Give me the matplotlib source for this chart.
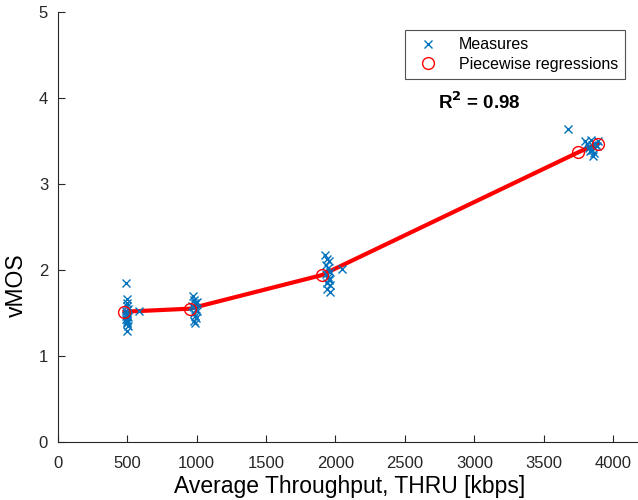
import matplotlib.pyplot as plt

plt.rcParams['font.family'] = ['Liberation Sans', 'DejaVu Sans']

# measured points (throughput kbps, vMOS)
meas_x = [490, 495, 500, 498, 502, 493, 497, 505, 488, 500, 496, 503, 499, 585,
          500, 494, 501,
          975, 980, 990, 985, 978, 995, 1000, 982, 988, 992, 979, 986, 1005, 970,
          1925, 1940, 1955, 1930, 1948, 1960, 1935, 1945, 1952, 1938, 1962, 2045, 1942, 1958, 1950,
          3674, 3800, 3840, 3825, 3850, 3870, 3860, 3880, 3835, 3855, 3890, 3845, 3810]
meas_y = [1.85, 1.66, 1.62, 1.58, 1.55, 1.52, 1.48, 1.45, 1.43, 1.40, 1.38, 1.35, 1.29, 1.52,
          1.50, 1.47, 1.42,
          1.70, 1.65, 1.62, 1.60, 1.57, 1.55, 1.52, 1.50, 1.47, 1.44, 1.41, 1.38, 1.63, 1.58,
          2.18, 2.13, 2.10, 2.06, 2.02, 1.98, 1.95, 1.92, 1.88, 1.85, 1.82, 2.01, 1.78, 1.74, 1.90,
          3.64, 3.50, 3.51, 3.42, 3.40, 3.47, 3.36, 3.44, 3.38, 3.33, 3.50, 3.45, 3.47]

# piecewise regression points
reg_x = [480, 950, 1900, 3750, 3890]
reg_y = [1.515, 1.55, 1.94, 3.37, 3.47]

fig = plt.figure(figsize=(6.38, 5.0), dpi=100)
ax = fig.add_axes([0.0906, 0.116, 0.914, 0.86])

ax.plot(reg_x, reg_y, color='#FF0000', linewidth=3, zorder=2)
ax.plot(meas_x, meas_y, 'x', color='#0072BD', markersize=6, markeredgewidth=1.0,
        label='Measures', zorder=3)
ax.plot(reg_x, reg_y, 'o', markerfacecolor='none', markeredgecolor='#FF0000',
        markersize=8.5, markeredgewidth=1.0, label='Piecewise regressions', zorder=4)

ax.text(2738, 3.95, 'R$^\\mathbf{2}$ = 0.98', fontsize=13.5, fontweight='bold',
        va='center', ha='left')

ax.set_xlim(0, 4200)
ax.set_ylim(0, 5)
ax.set_xticks(range(0, 4001, 500))
ax.set_yticks(range(0, 6))
ax.tick_params(direction='in', labelsize=12, colors='#262626', length=5)
ax.tick_params(axis='x', pad=10)
ax.tick_params(axis='y', pad=7)
ax.set_xlabel('Average Throughput, THRU [kbps]', fontsize=16.5, labelpad=3)
ax.set_ylabel('vMOS', fontsize=16.5)
ax.yaxis.set_label_coords(-0.051, 0.365)

for side in ['top', 'right']:
    ax.spines[side].set_visible(False)
for side in ['left', 'bottom']:
    ax.spines[side].set_color('#262626')

leg = ax.legend(loc='upper right', bbox_to_anchor=(0.973, 0.958), fontsize=11.5,
                fancybox=False, edgecolor='#262626', handletextpad=0.9,
                borderpad=0.45, labelspacing=0.3, borderaxespad=0)
leg.get_frame().set_linewidth(0.8)

plt.savefig('out.png', dpi=100)
plt.close()
